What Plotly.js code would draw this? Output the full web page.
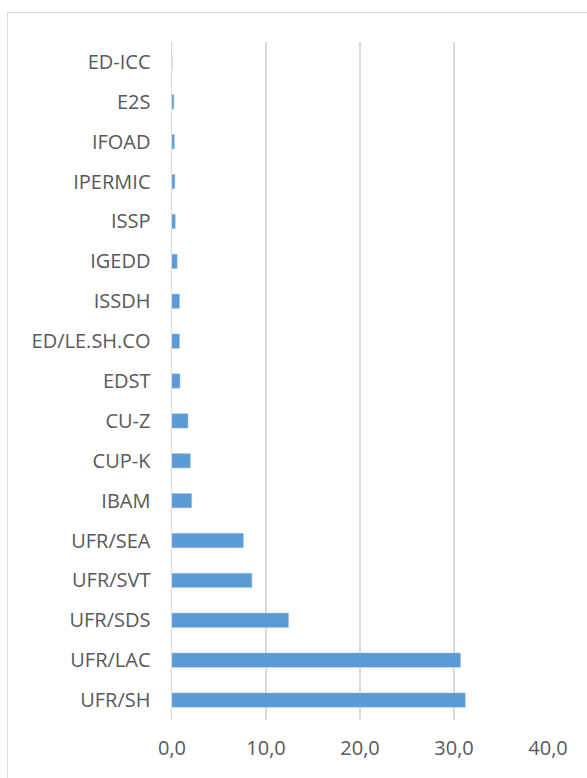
<!DOCTYPE html>
<html>
<head>
<meta charset="utf-8">
<script src="https://cdn.plot.ly/plotly-3.0.1.min.js"></script>
<style>
  html, body { margin: 0; padding: 0; background: #fff; overflow: hidden; }
  #frame { position: absolute; left: 7px; top: 12px; width: 640px; height: 820px; border: 1.5px solid #d9d9d9; box-sizing: border-box; }
  #chart { position: absolute; left: 0; top: 0; width: 587px; height: 778px; }
</style>
</head>
<body>
<div id="frame"></div>
<div id="chart"></div>
<script>
const categories = ["UFR/SH", "UFR/LAC", "UFR/SDS", "UFR/SVT", "UFR/SEA", "IBAM", "CUP-K", "CU-Z", "EDST", "ED/LE.SH.CO", "ISSDH", "IGEDD", "ISSP", "IPERMIC", "IFOAD", "E2S", "ED-ICC"];
const values = [31.2, 30.7, 12.4, 8.5, 7.6, 2.1, 1.95, 1.7, 0.85, 0.8, 0.8, 0.55, 0.35, 0.3, 0.25, 0.2, 0.0];
const xTicks = [0, 10, 20, 30, 40];

const trace = {
  type: 'bar',
  orientation: 'h',
  y: categories,
  x: values,
  marker: { color: '#5B9BD5', line: { color: '#9dc3e6', width: 0.5 } },
  hoverinfo: 'x+y'
};

const layout = {
  width: 587,
  height: 778,
  margin: { l: 172, r: 39, t: 42, b: 58 },
  paper_bgcolor: 'rgba(0,0,0,0)',
  plot_bgcolor: 'rgba(0,0,0,0)',
  font: { family: 'Open Sans, sans-serif', size: 20, color: '#595959' },
  bargap: 0.64,
  showlegend: false,
  separators: ', ',
  xaxis: {
    range: [0, 40],
    tickvals: xTicks,
    tickformat: '.1f',
    showgrid: true,
    gridcolor: '#d9d9d9',
    gridwidth: 1.5,
    zeroline: false,
    showline: false,
    ticks: '',
    ticklabelstandoff: 14,
    tickfont: { size: 20, color: '#595959' },
    fixedrange: true
  },
  yaxis: {
    type: 'category',
    categoryorder: 'array',
    categoryarray: categories,
    showgrid: false,
    zeroline: false,
    showline: true,
    linecolor: '#d9d9d9',
    linewidth: 1.5,
    ticks: '',
    ticklabelstandoff: 16,
    tickfont: { size: 20, color: '#595959' },
    fixedrange: true
  }
};

Plotly.newPlot('chart', [trace], layout, { displayModeBar: false, staticPlot: true });
</script>
</body>
</html>
